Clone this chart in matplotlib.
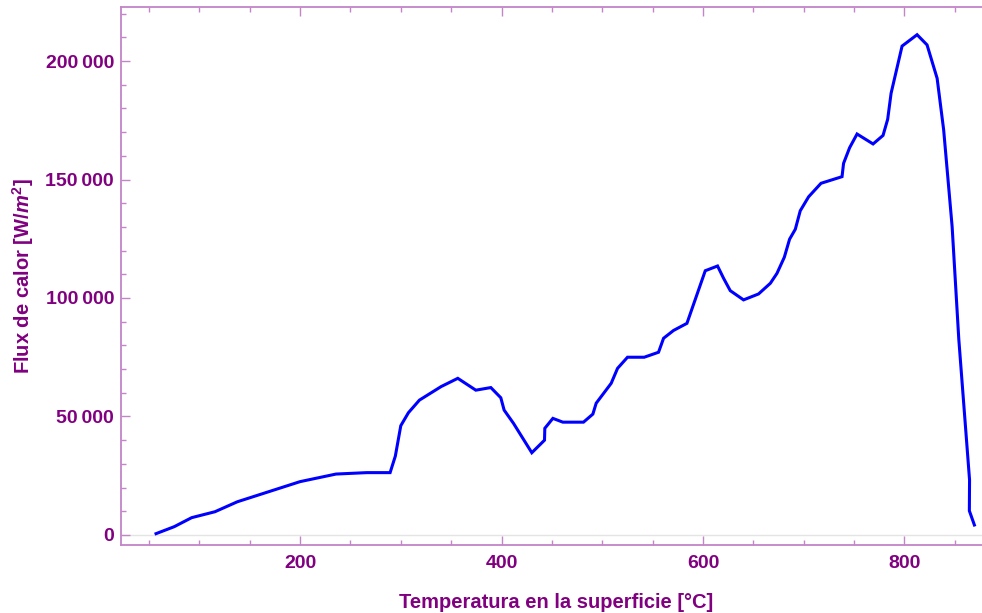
import numpy as np
import matplotlib
matplotlib.use("Agg")
import matplotlib.pyplot as plt
from matplotlib.ticker import MultipleLocator, FuncFormatter

# surface temperature [°C] and heat flux [W/m^2]
temp_c = [57.0, 75.1, 92.4, 115.5, 137.7, 200.0, 235.7, 266.2, 289.4, 294.6,
          300.0, 307.6, 318.5, 340.0, 356.6, 374.5, 389.4, 399.3, 402.6, 411.9,
          430.1, 442.7, 443.0, 451.0, 460.9, 481.4, 490.7, 494.0, 508.9, 515.2,
          525.1, 541.7, 555.9, 560.9, 570.8, 584.1, 602.3, 614.5, 620.5, 627.1,
          640.3, 655.2, 666.9, 673.5, 680.8, 686.0, 691.7, 696.6, 704.9, 717.2,
          738.1, 739.6, 745.6, 753.0, 768.9, 778.8, 783.4, 786.8, 797.7, 812.6,
          822.5, 832.5, 839.0, 847.4, 854.0, 864.7, 864.5, 869.5]
heat_flux = [550, 3500, 7300, 9800, 14000, 22500, 25700, 26300, 26300, 33300,
             46100, 51600, 56900, 62600, 66100, 61100, 62200, 57900, 52700, 47100,
             34700, 40000, 45000, 49200, 47600, 47600, 51000, 55600, 64000, 70300,
             75000, 75000, 77100, 83000, 86300, 89300, 111500, 113500, 108300, 103100,
             99200, 101700, 106200, 110400, 117200, 124800, 129000, 136800, 142700, 148400,
             151200, 156800, 163400, 169200, 165000, 168600, 175400, 186400, 206300, 211100,
             206800, 192700, 170900, 130100, 82700, 23200, 10200, 4200]

x_major = [200, 400, 600, 800]
y_major = [0, 50000, 100000, 150000, 200000]

purple = "#800080"
frame = "#c285c8"

plt.rcParams["font.family"] = ["Liberation Sans", "DejaVu Sans"]
plt.rcParams["font.weight"] = "bold"
plt.rcParams["axes.labelweight"] = "bold"
plt.rcParams["mathtext.fontset"] = "custom"
plt.rcParams["mathtext.rm"] = "Liberation Sans:bold"
plt.rcParams["mathtext.it"] = "Liberation Sans:italic:bold"
plt.rcParams["mathtext.bf"] = "Liberation Sans:bold"

fig = plt.figure(figsize=(9.82, 6.13), dpi=100)
ax = fig.add_axes([0.1232, 0.111, 0.887, 0.8776])

ax.axhline(0, color="#e4e4e4", lw=1.0, zorder=1)
ax.plot(temp_c, heat_flux, color="#0000ff", lw=2.2, zorder=3,
        solid_joinstyle="miter")

ax.set_xlim(22.2, 887)
ax.set_ylim(-4220, 222800)

ax.set_xticks(x_major)
ax.set_yticks(y_major)
ax.xaxis.set_minor_locator(MultipleLocator(50))
ax.yaxis.set_minor_locator(MultipleLocator(10000))
ax.yaxis.set_major_formatter(
    FuncFormatter(lambda v, p: f"{int(v):,}".replace(",", "\u2009")))

for s in ax.spines.values():
    s.set_color(frame)
    s.set_linewidth(1.3)

ax.tick_params(which="both", direction="in", top=True, right=True,
               color=frame, width=1.0)
ax.tick_params(which="major", length=6.5, labelsize=14, labelcolor=purple, pad=5)
ax.tick_params(axis="x", which="major", pad=7)
ax.tick_params(which="minor", length=3.8)

ax.set_xlabel("Temperatura en la superficie [°C]", fontsize=14.5,
              color=purple, labelpad=15)
ax.set_ylabel(r"Flux de calor [W/$m^2$]", fontsize=14.5,
              color=purple, labelpad=7)

fig.savefig("out.png", dpi=100)
